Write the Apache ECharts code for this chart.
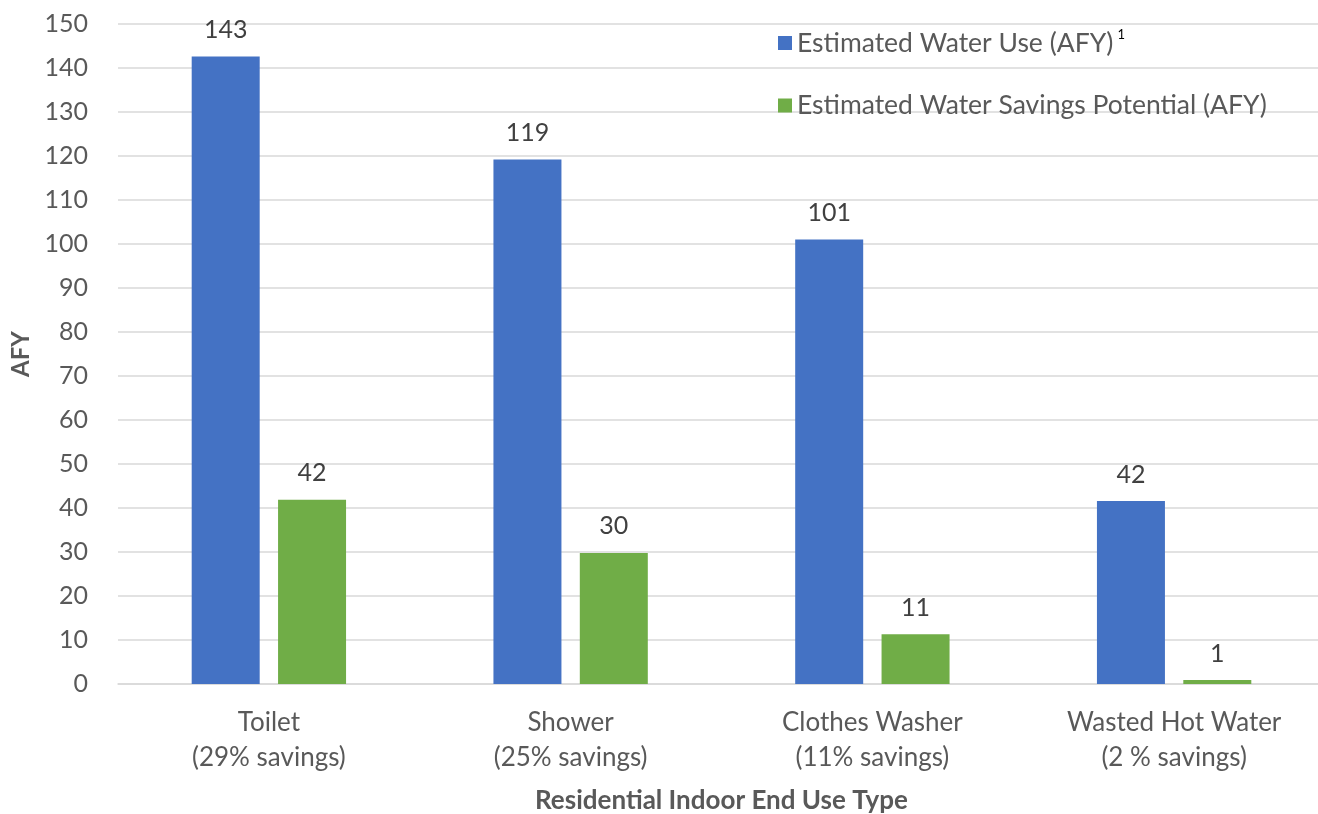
<!DOCTYPE html>
<html><head><meta charset="utf-8">
<script src="https://cdn.jsdelivr.net/npm/echarts@6/dist/echarts.min.js"></script>
<style>html,body{margin:0;padding:0;background:#fff}#c{width:1318px;height:814px}</style>
</head><body><div id="c"></div>
<script>
const categories = ['Toilet\n(29% savings)', 'Shower\n(25% savings)', 'Clothes Washer\n(11% savings)', 'Wasted Hot Water\n(2 % savings)'];
const waterUse = [142.6, 119.2, 101.0, 41.6];
const savings = [41.9, 29.8, 11.3, 0.9];
const yTicks = {min: 0, max: 150, interval: 10};
const seriesNames = ['Estimated Water Use (AFY)', 'Estimated Water Savings Potential (AFY)'];

const FONT = 'Lato';
const TXT = '#595959';
const chart = echarts.init(document.getElementById('c'));
const lbl = {show: true, position: 'top', distance: 14, color: '#404040', fontFamily: FONT, fontSize: 25,
  formatter: p => Math.round(p.value)};
chart.setOption({
  animation: false,
  textStyle: {fontFamily: FONT},
  grid: {left: 118, right: -7, top: 24, bottom: 130, containLabel: false, outerBoundsMode: 'none'},
  legend: {
    orient: 'vertical', left: 773, top: 23, itemWidth: 14, itemHeight: 14, itemGap: 21,
    icon: 'rect',
    data: seriesNames,
    formatter: n => n === seriesNames[0] ? '{a|' + n + '}{s|1}' : '{a|' + n + '}',
    textStyle: {color: TXT, fontFamily: FONT, fontSize: 26.5, padding: [0,0,0,0],
      rich: {a: {color: TXT, fontFamily: FONT, fontSize: 26.5, lineHeight: 30},
             s: {color: '#000', fontFamily: FONT, fontSize: 13, verticalAlign: 'top', padding: [0,0,30,4], lineHeight: 30}}}
  },
  xAxis: {
    type: 'category', data: categories,
    axisLine: {lineStyle: {color: '#d9d9d9', width: 1.5}},
    axisTick: {show: false},
    axisLabel: {color: TXT, fontFamily: FONT, fontSize: 26, lineHeight: 35, margin: 21},
    name: 'Residential Indoor End Use Type', nameLocation: 'middle', nameGap: 104,
    nameTextStyle: {color: TXT, fontFamily: FONT, fontSize: 26, fontWeight: 'bold'}
  },
  yAxis: {
    type: 'value', min: yTicks.min, max: yTicks.max, interval: yTicks.interval,
    axisLine: {show: false}, axisTick: {show: false},
    axisLabel: {color: TXT, fontFamily: FONT, fontSize: 25, margin: 30},
    splitLine: {lineStyle: {color: '#d9d9d9', width: 1.5}},
    name: 'AFY', nameLocation: 'middle', nameGap: 84, nameRotate: 90,
    nameTextStyle: {color: TXT, fontFamily: FONT, fontSize: 24, fontWeight: 'bold'}
  },
  series: [
    {name: seriesNames[0], type: 'bar', data: waterUse, barWidth: 68, barGap: '27%',
     itemStyle: {color: '#4472C4'}, label: lbl},
    {name: seriesNames[1], type: 'bar', data: savings, barWidth: 68,
     itemStyle: {color: '#70AD47'}, label: lbl}
  ]
});
</script></body></html>
